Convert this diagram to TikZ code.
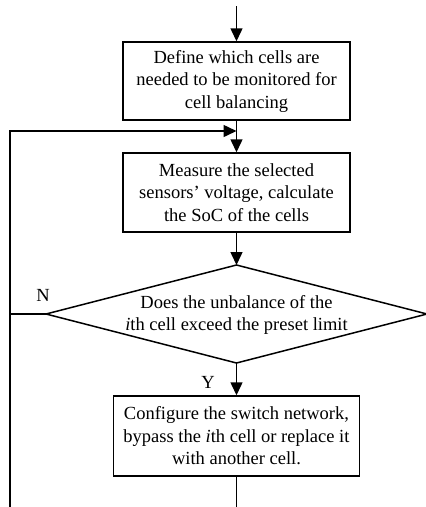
\documentclass[tikz,border=0pt]{standalone}
\usepackage{fontspec}
\setmainfont{Liberation Serif}
\usetikzlibrary{arrows.meta}
\begin{document}
\begin{tikzpicture}[x=1pt,y=-1pt,line width=1.5pt,
  stepbox/.style={draw,align=center,inner sep=0pt,font=\fontsize{18.5}{22.5}\selectfont},
  flow/.style={-{Triangle[length=13pt,width=12pt]}},
  lbl/.style={font=\fontsize{18.5}{20}\selectfont,inner sep=0pt}]
\useasboundingbox (0,0) rectangle (426,507);

% process boxes
\node[stepbox,minimum width=227pt,minimum height=78pt] (define) at (236.5,81)
  {Define which cells are\\needed to be monitored for\\cell balancing};
\node[stepbox,minimum width=227pt,minimum height=79pt] (measure) at (236.5,192.5)
  {Measure the selected\\sensors' voltage, calculate\\the SoC of the cells};
\node[stepbox,minimum width=246pt,minimum height=80pt] (config) at (236.5,436)
  {Configure the switch network,\\bypass the \textit{i}th cell or replace it\\with another cell.};

% decision diamond
\coordinate (dN) at (236.5,265);
\coordinate (dW) at (46,314);
\coordinate (dE) at (427,314);
\coordinate (dS) at (236.5,363);
\draw[line join=miter] (dN) -- (dE) -- (dS) -- (dW) -- cycle;
\node[stepbox,draw=none] (decide) at (236.5,315)
  {Does the unbalance of the\\\textit{i}th cell exceed the preset limit};

% connectors
\coordinate (entry) at (236.5,6);
\coordinate (merge) at (236.5,131);
\coordinate (loopbottom) at (10,507);
\coordinate (loopcorner) at (10,131);
\coordinate (njoin) at (10,314);
\coordinate (exit) at (236.5,507);

\draw[flow] (entry) -- (define);
\draw[flow] (define) -- (measure);
\draw[flow] (loopbottom) -- (loopcorner) -- (merge);
\draw (dW) -- (njoin);
\draw[flow] (measure) -- (dN);
\draw[flow] (dS) -- (config);
\draw (config) -- (exit);

% branch labels
\node[lbl] (nlabel) at (43,295) {N};
\node[lbl] (ylabel) at (208,382) {Y};
\end{tikzpicture}
\end{document}
